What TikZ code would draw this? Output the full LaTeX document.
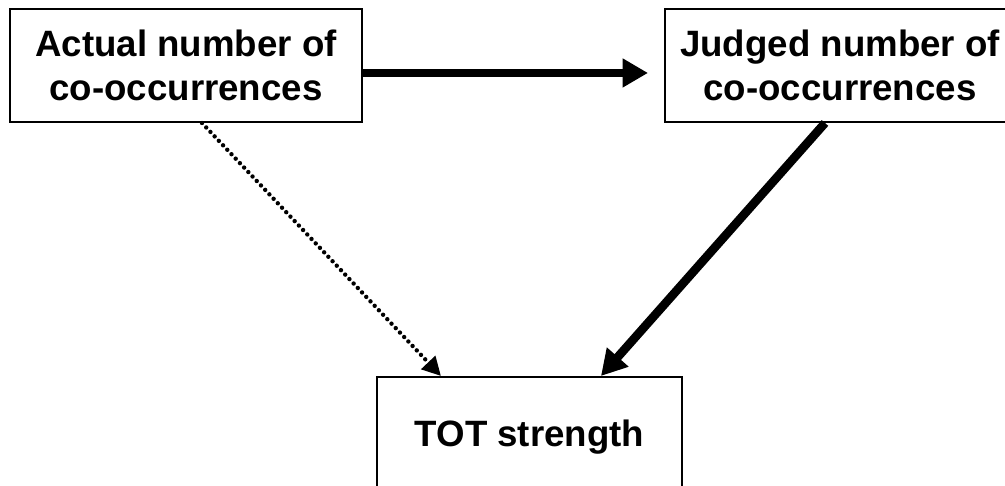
\documentclass[tikz,border=0pt]{standalone}
\usepackage{fontspec}
\setmainfont{Liberation Sans}
\usetikzlibrary{arrows.meta}
\begin{document}
\begin{tikzpicture}[x=0.75pt,y=-0.75pt,
  box/.style={draw=black,line width=1.5pt,fill=white,align=center,inner sep=0pt,
    font=\fontsize{27.5}{33}\selectfont\bfseries},
  thickarrow/.style={line width=6.5pt,-{Triangle[length=19pt,width=20.5pt]}},
  dotarrow/.style={line width=3.3pt,line cap=round,dash pattern=on 0pt off 4.6pt,
    -{Triangle[length=14pt,width=14pt]}}]
\useasboundingbox (0,0) rectangle (1005,485);
\node[box,minimum width=264pt,minimum height=84.75pt] (actual) at (186,65.5)
  {Actual number of\\co-occurrences};
\node[box,minimum width=262.5pt,minimum height=84.75pt] (judged) at (840,65.5)
  {Judged number of\\co-occurrences};
\node[box,minimum width=228.75pt,minimum height=84pt,text depth=0pt] (tot) at (529.5,433)
  {TOT strength};
\draw[thickarrow] ([yshift=-5.6pt]actual.east) -- ([yshift=-5.6pt,xshift=-12pt]judged.west);
\draw[thickarrow] ([xshift=-11.25pt]judged.south) -- ([xshift=53.6pt]tot.north);
\draw[dotarrow] ([xshift=12pt]actual.south) -- ([xshift=-66.4pt]tot.north);
\end{tikzpicture}
\end{document}
